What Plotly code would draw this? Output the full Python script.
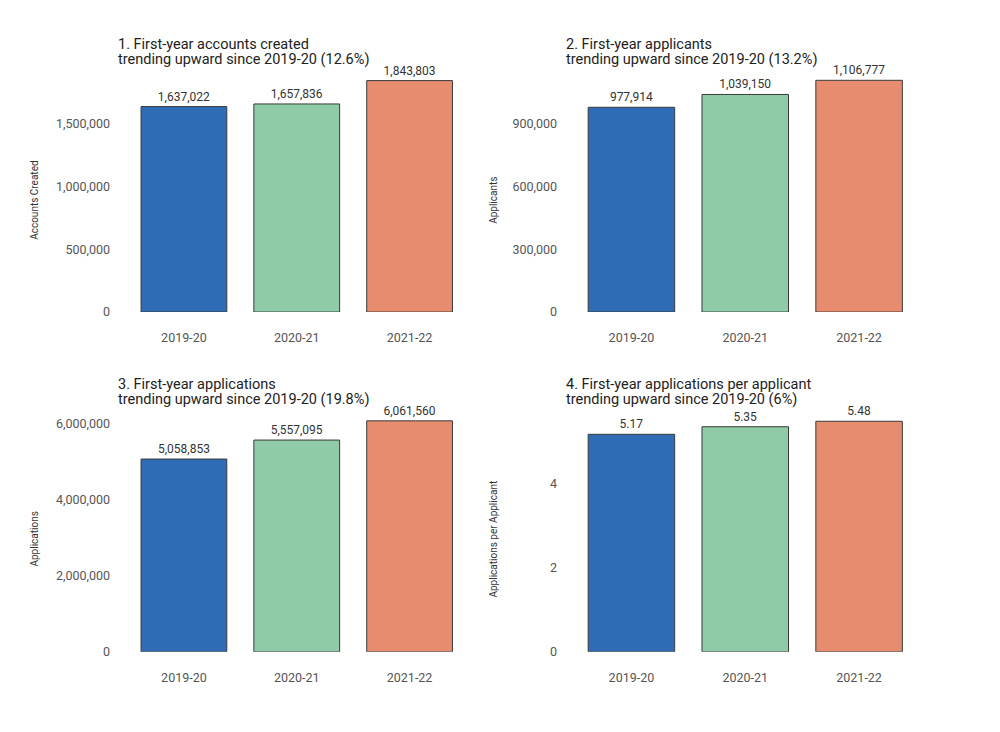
import plotly.graph_objects as go

years = ["2019-20", "2020-21", "2021-22"]
accounts_created = [1637022, 1657836, 1843803]
applicants = [977914, 1039150, 1106777]
applications = [5058853, 5557095, 6061560]
apps_per_applicant = [5.17, 5.35, 5.48]

colors = ["#2e6cb6", "#8ecba6", "#e88c70"]

titles = [
    ["1. First-year accounts created", "trending upward since 2019-20 (12.6%)"],
    ["2. First-year applicants", "trending upward since 2019-20 (13.2%)"],
    ["3. First-year applications", "trending upward since 2019-20 (19.8%)"],
    ["4. First-year applications per applicant", "trending upward since 2019-20 (6%)"],
]
ytitles = ["Accounts Created", "Applicants", "Applications", "Applications per Applicant"]
tickvals = [
    [0, 500000, 1000000, 1500000],
    [0, 300000, 600000, 900000],
    [0, 2000000, 4000000, 6000000],
    [0, 2, 4],
]
yranges = [[0, 1900000], [0, 1139000], [0, 6260000], [0, 5.67]]
series = [accounts_created, applicants, applications, apps_per_applicant]
templates = ["%{y:,}", "%{y:,}", "%{y:,}", "%{y:.2f}"]

W, H = 1000, 732
OFFX, OFFY = 8, 5  # page offsets as seen in the screenshot


def px(x):
    return (x - OFFX) / W


def py(y):
    y = y + 1 + (y - 311) * 0.0118
    return 1 - (y - OFFY) / H


xdoms = [[px(127.5), px(466)], [px(574.5), px(916)]]
ydoms = [[py(311), py(73)], [py(650), py(412)]]

fig = go.Figure()
layout = {}
annotations = []
title_x = [116, 564]
title_lines_y = [[44, 58.5], [383, 398]]
ytitle_x = [35, 494]
ytitle_y = [200, 538]

for i in range(4):
    r, c = divmod(i, 2)
    n = "" if i == 0 else str(i + 1)
    fig.add_trace(go.Bar(
        x=years, y=series[i],
        marker=dict(color=colors, line=dict(color="#3a3a3a", width=1)),
        texttemplate=templates[i], textposition="outside",
        textfont=dict(size=12, color="#333333"),
        cliponaxis=False,
        xaxis="x" + n, yaxis="y" + n, showlegend=False,
    ))
    layout["xaxis" + n] = dict(
        domain=xdoms[c], anchor="y" + n, showgrid=False, zeroline=False,
        showline=False, ticks="outside", ticklen=14, tickcolor="rgba(0,0,0,0)",
        tickfont=dict(size=12.5, color="#555555"),
    )
    layout["yaxis" + n] = dict(
        domain=ydoms[r], anchor="x" + n, range=yranges[i], showgrid=False,
        zeroline=False, showline=False, tickvals=tickvals[i],
        tickformat=",", ticks="outside", ticklen=14, tickcolor="rgba(0,0,0,0)",
        tickfont=dict(size=12.5, color="#555555"),
    )
    for k, line in enumerate(titles[i]):
        annotations.append(dict(
            text=line, xref="paper", yref="paper",
            x=px(title_x[c]), y=py(title_lines_y[r][k]), xanchor="left", yanchor="middle",
            align="left", showarrow=False, font=dict(size=14.5, color="#222222"),
        ))
    annotations.append(dict(
        text=ytitles[i], xref="paper", yref="paper",
        x=px(ytitle_x[c]), y=py(ytitle_y[r]), xanchor="center", yanchor="middle",
        textangle=-90, showarrow=False, font=dict(size=10, color="#333333"),
    ))

fig.update_layout(
    **layout,
    annotations=annotations,
    width=W, height=H,
    margin=dict(l=0, r=0, t=0, b=0),
    bargap=0.24,
    plot_bgcolor="white", paper_bgcolor="white",
    font=dict(family="Roboto, sans-serif"),
)

fig.write_html("out.html")
